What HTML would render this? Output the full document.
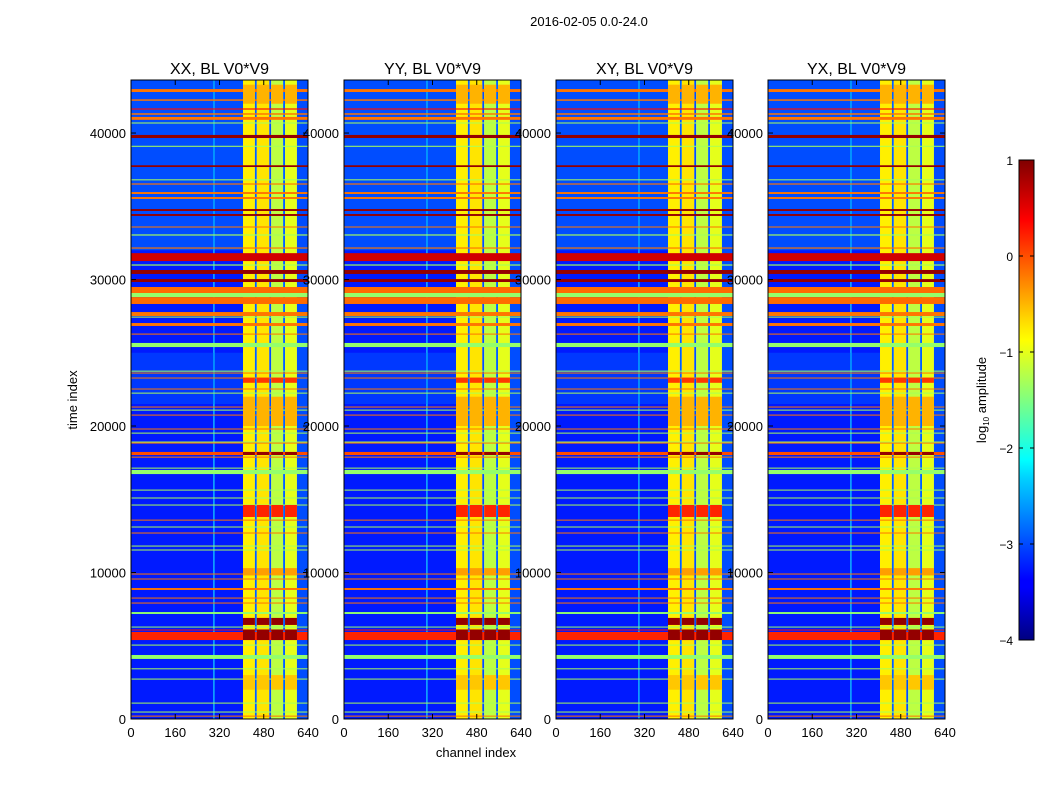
<!DOCTYPE html>
<html><head><meta charset="utf-8">
<style>
body{margin:0;background:#fff;width:1050px;height:800px;overflow:hidden;font-family:"Liberation Sans",sans-serif}
svg{position:absolute;left:0;top:0}
text{font-family:"Liberation Sans",sans-serif;fill:#000}
</style></head>
<body>
<svg id="fig" width="1050" height="800">
<defs>
<linearGradient id="jet" x1="0" y1="1" x2="0" y2="0">
<stop offset="0" stop-color="#000080"/><stop offset="0.11" stop-color="#0000ff"/>
<stop offset="0.125" stop-color="#0000ff"/><stop offset="0.34" stop-color="#00d4ff"/>
<stop offset="0.375" stop-color="#00ffff"/><stop offset="0.5" stop-color="#80ff80"/>
<stop offset="0.625" stop-color="#ffff00"/><stop offset="0.66" stop-color="#ffe000"/>
<stop offset="0.875" stop-color="#ff0000"/><stop offset="1" stop-color="#800000"/>
</linearGradient>
</defs>
<text x="589" y="26" font-size="13" text-anchor="middle">2016-02-05 0.0-24.0</text>
<text transform="translate(77,400) rotate(-90)" font-size="13" text-anchor="middle">time index</text>
<text x="476" y="757" font-size="13" text-anchor="middle">channel index</text>
<text transform="translate(986,400) rotate(-90)" font-size="13" text-anchor="middle">log<tspan font-size="8" dy="3">10</tspan><tspan dy="-3"> amplitude</tspan></text>
<rect x="1019" y="160" width="15" height="480" fill="url(#jet)" stroke="#000" stroke-width="1"/>
<g id="cbticks"></g>
<g id="panels"></g>
</svg>
<script>
const panelTitles=["XX, BL V0*V9","YY, BL V0*V9","XY, BL V0*V9","YX, BL V0*V9"];
const xTicks=[0,160,320,480,640];
const yTicks=[0,10000,20000,30000,40000];
const cbTicks=[1,0,-1,-2,-3,-4];
const colEdges=[0,298,302,405,448,455,500,507,550,557,600,640];
const colValues=[-3.25,-2.3,-3.25,-0.8,-2.9,-0.75,-3.0,-1.2,-2.9,-1.0,-3.0];
const lowStart=[32000,21500];
const lowEnd=[43620,25000];
const lowValue=[-3.0,-3.1];
const bandStart=[42800,42200,41600,41250,40900,40650,39660,39060,37680,36770,36480,35840,35500,34680,34340,33550,33000,32110,31260,30950,30380,29830,29080,28800,28330,27510,27400,26830,26240,25390,23720,23590,23250,22500,22220,21270,21060,20720,19770,19490,18880,18810,18020,17850,17100,16720,15600,15060,14580,13550,13080,12670,11780,11510,9870,9530,8810,8230,7890,7170,6250,6050,5390,5020,4100,3400,2700,1060,450,170];
const bandEnd=[43000,42300,41680,41350,41100,40720,39870,39130,37800,36840,36560,35970,35630,34810,34470,33620,33080,32190,31800,31030,30650,30030,29490,29080,28800,27780,27470,27030,26310,25670,23780,23650,23310,22560,22280,21330,21120,20780,19830,19550,18940,18870,18230,17910,17160,17000,15660,15120,14640,13610,13140,12730,11840,11570,9930,9590,8940,8290,7950,7300,6310,6110,5940,5080,4370,3460,2760,1120,510,230];
const bandValue=[-0.2,-0.2,0.3,-0.2,-0.2,-1.3,0.9,-1.3,0.9,-1.3,-0.2,-0.2,-0.2,0.9,0.9,-0.2,-1.3,-0.2,0.6,-1.3,0.9,0.9,-0.15,-1.4,-0.15,-0.2,-1.3,-0.2,-0.2,-1.4,-1.3,-0.2,-0.2,-0.2,-1.3,-0.2,-1.3,-0.2,-0.2,-1.3,-1.3,-0.2,0.0,-0.2,-1.3,-1.4,-1.3,-1.3,-1.3,-0.2,-1.3,-0.2,-1.3,-1.3,-0.2,-0.2,-0.2,-0.2,-0.2,-1.4,-1.4,0.3,0.2,-1.3,-1.4,-1.3,-1.3,-1.3,-1.3,-0.2];
const patchStart=[42000,22950,20000,18020,13790,6420,5390,9800,2000];
const patchEnd=[43300,23300,22000,18230,14610,6900,6110,10300,3000];
const patchValue=[-0.5,0.1,-0.5,0.9,0.2,0.9,0.9,-0.4,-0.6];
const panelLeft=[131,344,556,768];
const PW=177,TOP=80,BOT=719,TMAX=43620,CMAX=640;
const NS="http://www.w3.org/2000/svg";
function jet(v){let t=(v+4)/5;t=Math.max(0,Math.min(1,t));
 const c=x=>Math.round(255*Math.max(0,Math.min(1,1.5-Math.abs(4*t-x))));
 return `rgb(${c(3)},${c(2)},${c(1)})`;}
function mk(tag,a,p){const e=document.createElementNS(NS,tag);for(const k in a)e.setAttribute(k,a[k]);p.appendChild(e);return e;}
const yScale=t=>BOT-t/TMAX*(BOT-TOP);
const root=document.getElementById('panels');
panelLeft.forEach((L,pi)=>{
 const xScale=c=>L+c/CMAX*PW;
 const g=mk('g',{},root);
 
 
 for(let i=0;i<colValues.length;i++){
  const r=mk('rect',{x:xScale(colEdges[i]),y:TOP,width:xScale(colEdges[i+1])-xScale(colEdges[i]),height:BOT-TOP,fill:jet(colValues[i])},g);
  
  
 }
 for(let i=0;i<lowValue.length;i++){
  const y1=yScale(lowEnd[i]),y0=yScale(lowStart[i]);
  const r=mk('rect',{x:L,y:y1,width:xScale(298)-L,height:y0-y1,fill:jet(lowValue[i])},g);
  
  
  const r2=mk('rect',{x:xScale(302),y:y1,width:xScale(405)-xScale(302),height:y0-y1,fill:jet(lowValue[i])},g);
  
  
 }
 for(let i=0;i<bandValue.length;i++){
  const y1=yScale(bandEnd[i]),y0=yScale(bandStart[i]);
  const r=mk('rect',{x:L,y:y1,width:PW,height:Math.max(1,y0-y1),fill:jet(bandValue[i])},g);
  
  
 }
 for(let i=0;i<patchValue.length;i++){
  for(let j=0;j<colValues.length;j++){
   if(colValues[j]<-2||colEdges[j]<400)continue;
   const y1=yScale(Math.min(patchEnd[i],TMAX)),y0=yScale(patchStart[i]);
   const r=mk('rect',{x:xScale(colEdges[j]),y:y1,width:xScale(colEdges[j+1])-xScale(colEdges[j]),height:y0-y1,fill:jet(patchValue[i])},g);
   
   
  }
 }
 const fr=mk('rect',{x:L,y:TOP,width:PW,height:BOT-TOP,fill:'none',stroke:'#000','stroke-width':1},g);
 
 
 const tt=mk('text',{x:L+PW/2,y:74,'font-size':16,'text-anchor':'middle'},g);tt.textContent=panelTitles[pi];
 
 
 xTicks.forEach(v=>{const x=xScale(v);
  mk('line',{x1:x,x2:x,y1:BOT,y2:BOT-5,stroke:'#000'},g);mk('line',{x1:x,x2:x,y1:TOP,y2:TOP+5,stroke:'#000'},g);
  const t=mk('text',{x:x,y:BOT+18,'font-size':13,'text-anchor':'middle'},g);t.textContent=v;
  
  });
 yTicks.forEach(v=>{const y=yScale(v);
  mk('line',{x1:L,x2:L+5,y1:y,y2:y,stroke:'#000'},g);mk('line',{x1:L+PW,x2:L+PW-5,y1:y,y2:y,stroke:'#000'},g);
  const t=mk('text',{x:L-5,y:y+5,'font-size':13,'text-anchor':'end'},g);t.textContent=v;
  
  });
});
const cb=document.getElementById('cbticks');
cbTicks.forEach(v=>{const y=160+(1-v)/5*480;
 mk('line',{x1:1019,x2:1023,y1:y,y2:y,stroke:'#000'},cb);mk('line',{x1:1030,x2:1034,y1:y,y2:y,stroke:'#000'},cb);
 const t=mk('text',{x:1013,y:y+5,'font-size':12,'text-anchor':'end'},cb);t.textContent=v<0?'\u2212'+(-v):v;
 
 });
</script>
</body></html>
